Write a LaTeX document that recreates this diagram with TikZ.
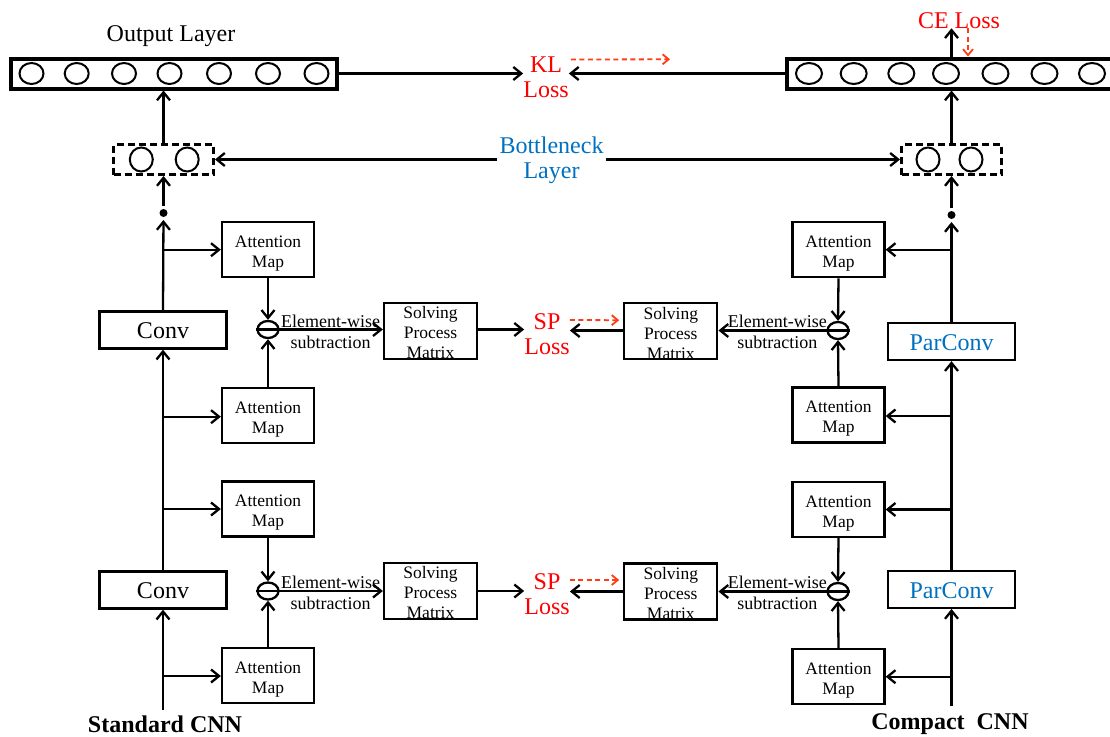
\documentclass[tikz,border=0pt]{standalone}
\usepackage{fontspec}
\setmainfont{Liberation Serif}
\usetikzlibrary{arrows.meta,shapes.geometric,calc}
\definecolor{lossred}{RGB}{255,0,0}
\definecolor{hintred}{RGB}{255,60,20}
\definecolor{layerblue}{RGB}{0,112,192}
% lower a line of text without changing its box
\newcommand\dn[2]{\raisebox{-#1}[\height][\depth]{#2}}

\begin{document}
\begin{tikzpicture}[x=1pt,y=-1pt,
  wire/.style={line width=2.3pt},
  flow/.style={wire,-{Straight Barb[length=8pt,width=13pt]}},
  hint/.style={hintred,line width=1.8pt,dash pattern=on 5pt off 3.5pt,-{Straight Barb[length=6pt,width=10pt]}},
  box/.style={draw,line width=2.3pt,inner sep=0pt,align=center},
  amap/.style={box,minimum width=92pt,minimum height=55pt,font=\fontsize{17.5}{20}\selectfont},
  spm/.style={box,minimum width=93pt,minimum height=56pt,font=\fontsize{17.5}{20}\selectfont},
  convbox/.style={box,minimum width=127pt,minimum height=37pt,font=\fontsize{24}{28}\selectfont},
  subnode/.style={draw,ellipse,line width=2.3pt,minimum width=21pt,minimum height=17pt,inner sep=0pt},
  layer/.style={draw,line width=4pt,minimum height=30pt,inner sep=0pt},
  bneck/.style={draw,line width=3pt,dash pattern=on 7pt off 4pt,minimum width=100pt,minimum height=30pt,inner sep=0pt},
  unit/.style={line width=2pt},
  dotnode/.style={circle,fill,inner sep=0pt,minimum size=8pt,outer sep=3pt},
  ewlabel/.style={font=\fontsize{18}{21}\selectfont,align=center,inner sep=0pt},
  big/.style={font=\fontsize{24}{25.5}\selectfont,align=center,inner sep=0pt},
  losslabel/.style={big,text=lossred},
  ]
\useasboundingbox (0,0) rectangle (1110,736);

% ---------- output layers ----------
\node[layer,minimum width=326pt] (outL) at (174,73.5) {};
\node[layer,minimum width=327pt] (outR) at (950.5,73.5) {};
\foreach \x in {31.5,76.7,124,169.5,219,268,316.5}
  \draw[unit] (\x,73.5) ellipse [x radius=12pt,y radius=10.5pt];
\foreach \x in {809,853.7,901.3,946,995.5,1044.5,1092}
  \draw[unit] (\x,73.5) ellipse [x radius=13pt,y radius=10.5pt];
\node[big] (outlbl) at (171,36) {Output Layer};

% ---------- bottleneck layers ----------
\node[bneck] (bnL) at (163.5,159.5) {};
\node[bneck] (bnR) at (951.5,159.5) {};
\foreach \x in {141.3,187.2}
  \draw[unit] (\x,159.5) ellipse [x radius=11.5pt,y radius=12pt];
\foreach \x in {928,971}
  \draw[unit] (\x,159.5) ellipse [x radius=11.5pt,y radius=12pt];
\node[big,text=layerblue,inner sep=2.5pt] (bl) at (551.5,157.5) {\dn{3pt}{Bottleneck}\\\dn{3pt}{Layer}};

% ---------- losses ----------
\node[losslabel] (kl) at (546,76) {\dn{1.5pt}{KL}\\\dn{1.5pt}{Loss}};
\node[losslabel] (ce) at (959,20) {\dn{1pt}{CE Loss}};
\node[losslabel] (sp1) at (547,334) {SP\\Loss};
\node[losslabel] (sp2) at (547,594) {SP\\Loss};

% ---------- standard CNN ----------
\node[convbox] (convL1) at (163,330) {\dn{1pt}{Conv}};
\node[convbox] (convL2) at (163,590) {\dn{1pt}{Conv}};
\node[dotnode] (dotL) at (163.5,213) {};
\node[amap] (amL1) at (268,249.7) {\dn{4pt}{Attention}\\\dn{4pt}{Map}};
\node[amap] (amL2) at (268,415.5) {\dn{4pt}{Attention}\\\dn{4pt}{Map}};
\node[amap] (amL3) at (268,509) {\dn{4pt}{Attention}\\\dn{4pt}{Map}};
\node[amap] (amL4) at (268,675.5) {\dn{4pt}{Attention}\\\dn{4pt}{Map}};
\node[subnode] (sL1) at (268,329.5) {};
\node[subnode] (sL2) at (268,591) {};
\node[spm] (spmL1) at (430.5,330.8) {\dn{2pt}{Solving}\\\dn{2pt}{Process}\\\dn{2pt}{Matrix}};
\node[spm] (spmL2) at (430.5,591) {\dn{2pt}{Solving}\\\dn{2pt}{Process}\\\dn{2pt}{Matrix}};
\node[ewlabel] (ewL1) at (330.5,331.5) {Element-wise\\subtraction};
\node[ewlabel] (ewL2) at (330.5,592.5) {Element-wise\\subtraction};
\node[font=\fontsize{24}{28}\selectfont\bfseries,inner sep=0pt] (stdlbl) at (165,724) {Standard CNN};

\coordinate (inL) at (163,710);
\coordinate (bL1) at (163,249.7);
\coordinate (bL2) at (163,416.7);
\coordinate (bL3) at (163,509);
\coordinate (bL4) at (163,676);

% ---------- compact CNN ----------
\node[convbox,text=layerblue] (pcR1) at (951.5,341.5) {\dn{1pt}{ParConv}};
\node[convbox,text=layerblue] (pcR2) at (951.5,589.3) {\dn{1pt}{ParConv}};
\node[dotnode] (dotR) at (951.5,215) {};
\node[amap] (amR1) at (838.5,249.7) {\dn{4pt}{Attention}\\\dn{4pt}{Map}};
\node[amap] (amR2) at (838.5,415) {\dn{4pt}{Attention}\\\dn{4pt}{Map}};
\node[amap] (amR3) at (838.5,509.5) {\dn{4pt}{Attention}\\\dn{4pt}{Map}};
\node[amap] (amR4) at (838.5,676.5) {\dn{4pt}{Attention}\\\dn{4pt}{Map}};
\node[subnode] (sR1) at (838,330.5) {};
\node[subnode] (sR2) at (838,591.5) {};
\node[spm] (spmR1) at (670.8,331.2) {\dn{2pt}{Solving}\\\dn{2pt}{Process}\\\dn{2pt}{Matrix}};
\node[spm] (spmR2) at (670.8,591.5) {\dn{2pt}{Solving}\\\dn{2pt}{Process}\\\dn{2pt}{Matrix}};
\node[ewlabel] (ewR1) at (777.3,332.2) {Element-wise\\subtraction};
\node[ewlabel] (ewR2) at (777.3,593) {Element-wise\\subtraction};
\node[font=\fontsize{24}{28}\selectfont\bfseries,inner sep=0pt] (cmplbl) at (950,724) {Compact\ \ CNN};

\coordinate (inR) at (951.5,706);
\coordinate (bR1) at (951.5,249.7);
\coordinate (bR2) at (951.5,416);
\coordinate (bR3) at (951.5,509.5);
\coordinate (bR4) at (951.5,676.7);

% minus signs inside the subtraction circles
\foreach \s in {sL1,sL2,sR1,sR2}
  \draw[wire] (\s.west) -- (\s.east);

% ---------- connectors: standard CNN ----------
\draw[flow] (inL) -- (convL2.south);
\draw[flow] (convL2.north) -- (convL1.south);
\draw[flow] (convL1.north) -- (dotL);
\draw[flow] (dotL) -- (dotL |- bnL.south);
\draw[flow] (bnL.north) -- (bnL.north |- outL.south);
\foreach \b/\a in {bL1/amL1,bL2/amL2,bL3/amL3,bL4/amL4}
  \draw[flow] (\b) -- (\b -| \a.west);
\draw[flow] (amL1.south) -- (sL1.north);
\draw[flow] (amL2.north) -- (sL1.south);
\draw[flow] (amL3.south) -- (sL2.north);
\draw[flow] (amL4.north) -- (sL2.south);
\draw[flow] (sL1.east) -- (sL1.east -| spmL1.west);
\draw[flow] (sL2.east) -- (sL2.east -| spmL2.west);
\draw[flow] (spmL1.east |- sL1.east) -- (sL1.east -| sp1.west);
\draw[flow] (spmL2.east |- sL2.east) -- (sL2.east -| sp2.west);

% ---------- connectors: compact CNN ----------
\draw[flow] (inR) -- (pcR2.south);
\draw[flow] (pcR2.north) -- (pcR1.south);
\draw[flow] (pcR1.north) -- (dotR);
\draw[flow] (dotR) -- (dotR |- bnR.south);
\draw[flow] (bnR.north) -- (bnR.north |- outR.south);
\draw[flow] (bnR.north |- outR.north) -- (bnR.north |- ce.south);
\foreach \b/\a in {bR1/amR1,bR2/amR2,bR3/amR3,bR4/amR4}
  \draw[flow] (\b) -- (\b -| \a.east);
\draw[flow] (amR1.south) -- (sR1.north);
\draw[flow] (amR2.north) -- (sR1.south);
\draw[flow] (amR3.south) -- (sR2.north);
\draw[flow] (amR4.north) -- (sR2.south);
\draw[flow] (sR1.west) -- (sR1.west -| spmR1.east);
\draw[flow] (sR2.west) -- (sR2.west -| spmR2.east);
\draw[flow] (spmR1.west |- sR1.west) -- (sR1.west -| sp1.east);
\draw[flow] (spmR2.west |- sR2.west) -- (sR2.west -| sp2.east);

% ---------- layer-level connectors ----------
\draw[flow] (outL.east) -- (outL.east -| kl.west);
\draw[flow] (outR.west) -- (outR.west -| kl.east);
\draw[flow] (bl.west |- bnL.east) -- (bnL.east);
\draw[flow] (bl.east |- bnR.west) -- (bnR.west);

% ---------- hint arrows ----------
\coordinate (klEnd) at (670,59.3);
\coordinate (ceDash) at (968,28);
\draw[hint] ([xshift=2pt,yshift=16.5pt]kl.east) -- (klEnd);
\draw[hint] (ceDash) -- (ceDash |- outR.north);
\draw[hint] ([yshift=14pt]sp1.east) -- ([xshift=-4pt,yshift=11pt]spmR1.west);
\draw[hint] ([yshift=14pt]sp2.east) -- ([xshift=-4pt,yshift=11.5pt]spmR2.west);
\end{tikzpicture}
\end{document}
